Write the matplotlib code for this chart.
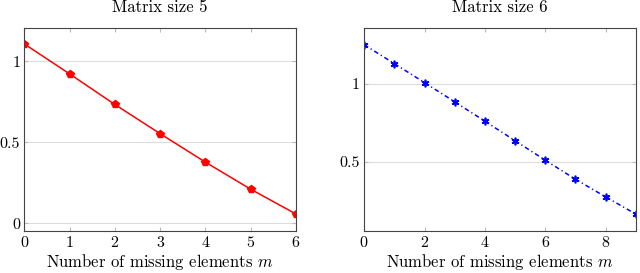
import matplotlib
matplotlib.use("Agg")
import matplotlib.pyplot as plt

# valores
m_5 = [0, 1, 2, 3, 4, 5, 6]
err_5 = [1.107, 0.922, 0.733, 0.553, 0.377, 0.210, 0.057]

m_6 = [0, 1, 2, 3, 4, 5, 6, 7, 8, 9]
err_6 = [1.251, 1.130, 1.008, 0.885, 0.761, 0.636, 0.511, 0.389, 0.276, 0.166]

plt.rcParams["font.family"] = "serif"
plt.rcParams["font.serif"] = ["cmr10"]
plt.rcParams["mathtext.fontset"] = "cm"
plt.rcParams["axes.formatter.use_mathtext"] = True

fig = plt.figure(figsize=(6.4, 2.73), dpi=100)
ax1 = fig.add_axes([0.038, 0.1538, 0.4245, 0.7447])
ax2 = fig.add_axes([0.569, 0.1538, 0.4243, 0.7447])


def estilo(ax, titulo):
    ax.set_title(titulo, fontsize=12, pad=11)
    ax.set_xlabel("Number of missing elements $m$", fontsize=12, labelpad=1)
    ax.grid(axis="y", color="#dddddd", linewidth=0.8)
    ax.set_axisbelow(True)
    for s in ax.spines.values():
        s.set_color("#444444")
        s.set_linewidth(0.8)
    ax.tick_params(direction="in", top=True, right=True, length=3,
                   color="#bbbbbb", labelsize=11.5, pad=3)


ax1.plot(m_5, err_5, color="red", marker="p", markersize=6, linewidth=1.1)
ax1.set_xlim(0, 6)
ax1.set_ylim(-0.048, 1.207)
ax1.set_xticks(m_5)
ax1.set_yticks([0, 0.5, 1])
ax1.set_yticklabels(["0", "0.5", "1"])
estilo(ax1, "Matrix size 5")

ax2.plot(m_6, err_6, color="blue", marker=(6, 2, 0), markersize=5.5,
         markeredgewidth=1.2, linewidth=1.1, linestyle=(0, (3, 2, 0.8, 2)))
ax2.set_xlim(0, 9)
ax2.set_ylim(0.057, 1.36)
ax2.set_xticks([0, 2, 4, 6, 8])
ax2.set_yticks([0.5, 1])
ax2.set_yticklabels(["0.5", "1"])
estilo(ax2, "Matrix size 6")

fig.savefig("out.png", dpi=100)
